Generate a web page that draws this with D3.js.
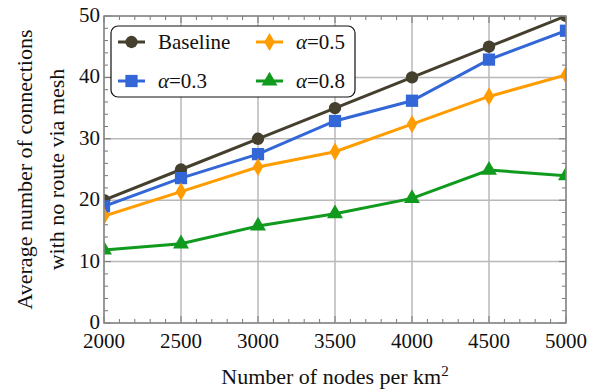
<!DOCTYPE html>
<html>
<head>
<meta charset="utf-8">
<script src="https://cdn.jsdelivr.net/npm/d3@7"></script>
<style>
  body { margin: 0; background: #fff; }
</style>
</head>
<body>
<div id="chart"></div>
<script>
// data
var nodes = [2000, 2500, 3000, 3500, 4000, 4500, 5000];
var baseline = [20, 25, 30, 35, 40, 45, 50];
var alpha03 = [19, 23.6, 27.5, 32.9, 36.2, 42.9, 47.6];
var alpha05 = [17.4, 21.4, 25.4, 27.9, 32.4, 36.9, 40.4];
var alpha08 = [11.9, 12.9, 15.8, 17.8, 20.3, 24.9, 24];
var xTicks = [2000, 2500, 3000, 3500, 4000, 4500, 5000];
var yTicks = [0, 10, 20, 30, 40, 50];

var series = [
  { name: "Baseline", values: baseline, color: "#453f2e", symbol: d3.symbolCircle, size: 120 },
  { name: "0.3", values: alpha03, color: "#3366d6", symbol: d3.symbolSquare, size: 150 },
  { name: "0.5", values: alpha05, color: "#ff9c00", symbol: d3.symbolDiamond, size: 95 },
  { name: "0.8", values: alpha08, color: "#109a1e", symbol: d3.symbolTriangle, size: 110 }
];

var width = 605, height = 389;
var margin = { top: 16, right: 39, bottom: 66, left: 104 };
var w = width - margin.left - margin.right;
var h = height - margin.top - margin.bottom;

var x = d3.scaleLinear().domain([2000, 5000]).range([0, w]);
var y = d3.scaleLinear().domain([0, 50]).range([h, 0]);

// serif text helper, inline style so nothing overrides it
function serif(sel, size) {
  return sel
    .style("font-family", "Liberation Serif", "important")
    .style("font-size", size + "px", "important")
    .attr("fill", "#111");
}

var svg = d3.select("#chart").append("svg")
  .attr("width", width)
  .attr("height", height);

var g = svg.append("g")
  .attr("transform", "translate(" + [margin.left, margin.top] + ")");

svg.append("defs").append("clipPath").attr("id", "clip")
  .append("rect").attr("width", w).attr("height", h);

// grid
g.append("g").selectAll("line").data(xTicks).enter().append("line")
  .attr("x1", x).attr("x2", x).attr("y1", 0).attr("y2", h)
  .attr("stroke", "#b8b8b8").attr("stroke-width", 1.5);
g.append("g").selectAll("line").data(yTicks).enter().append("line")
  .attr("y1", y).attr("y2", y).attr("x1", 0).attr("x2", w)
  .attr("stroke", "#b8b8b8").attr("stroke-width", 1.5);

// ticks on all four sides, pointing inward
var xMinor = d3.range(2000, 5001, 100);
var yMinor = d3.range(0, 51, 2);
var tickColor = "#777";

function ticksX(sel, yy, dir) {
  sel.selectAll(null).data(xMinor).enter().append("line")
    .attr("x1", x).attr("x2", x)
    .attr("y1", yy)
    .attr("y2", function (d) { return yy + dir * (d % 500 === 0 ? 7 : 4); })
    .attr("stroke", tickColor).attr("stroke-width", 1);
}
function ticksY(sel, xx, dir) {
  sel.selectAll(null).data(yMinor).enter().append("line")
    .attr("y1", y).attr("y2", y)
    .attr("x1", xx)
    .attr("x2", function (d) { return xx + dir * (d % 10 === 0 ? 7 : 4); })
    .attr("stroke", tickColor).attr("stroke-width", 1);
}
var tk = g.append("g");
ticksX(tk.append("g"), h, -1);
ticksX(tk.append("g"), 0, 1);
ticksY(tk.append("g"), 0, 1);
ticksY(tk.append("g"), w, -1);

// lines and markers
var plot = g.append("g").attr("clip-path", "url(#clip)");
var line = d3.line()
  .x(function (d, i) { return x(nodes[i]); })
  .y(function (d) { return y(d); });

series.forEach(function (s) {
  plot.append("path")
    .datum(s.values)
    .attr("d", line)
    .attr("fill", "none")
    .attr("stroke", s.color)
    .attr("stroke-width", 3);
  plot.selectAll(null).data(s.values).enter().append("path")
    .attr("d", d3.symbol().type(s.symbol).size(s.size))
    .attr("transform", function (d, i) { return "translate(" + [x(nodes[i]), y(d)] + ")"; })
    .attr("fill", s.color);
});

// frame
g.append("rect")
  .attr("width", w).attr("height", h)
  .attr("fill", "none").attr("stroke", "#888").attr("stroke-width", 1.5);

// tick labels
serif(g.append("g").selectAll("text").data(xTicks).enter().append("text")
  .attr("x", x).attr("y", h + 25)
  .attr("text-anchor", "middle"), 21)
  .text(function (d) { return d; });
serif(g.append("g").selectAll("text").data(yTicks).enter().append("text")
  .attr("x", -4).attr("y", function (d) { return y(d) + 6; })
  .attr("text-anchor", "end"), 21)
  .text(function (d) { return d; });

// axis titles
var xt = serif(g.append("text")
  .attr("x", w / 2).attr("y", h + 61)
  .attr("text-anchor", "middle"), 22);
serif(xt.append("tspan"), 22).text("Number of nodes per km");
serif(xt.append("tspan").attr("dy", -8), 15).text("2");

var yt = serif(g.append("text")
  .attr("transform", "translate(" + [-72, h / 2] + ") rotate(-90)")
  .attr("text-anchor", "middle"), 22);
serif(yt.append("tspan").attr("x", 0).attr("dy", 0), 22).text("Average number of connections");
serif(yt.append("tspan").attr("x", 0).attr("dy", 32), 22).text("with no route via mesh");

// legend
var lg = svg.append("g").attr("transform", "translate(111,26)");
lg.append("rect")
  .attr("width", 244).attr("height", 71)
  .attr("rx", 7).attr("ry", 7)
  .attr("fill", "#fff").attr("stroke", "#111").attr("stroke-width", 1.2);

var cols = [7, 145];
series.forEach(function (s, i) {
  var col = cols[Math.floor(i / 2)];
  var row = 16 + (i % 2) * 39;
  var e = lg.append("g").attr("transform", "translate(" + [col, row] + ")");
  e.append("line").attr("x1", 0).attr("x2", 27).attr("stroke", s.color).attr("stroke-width", 3);
  e.append("path")
    .attr("d", d3.symbol().type(s.symbol).size(s.size))
    .attr("transform", "translate(13.5,0)")
    .attr("fill", s.color);
  var t = serif(e.append("text").attr("x", 40).attr("y", 7), 21);
  if (s.name === "Baseline") {
    t.text("Baseline");
  } else {
    serif(t.append("tspan"), 21).style("font-style", "italic").text("\u03b1");
    serif(t.append("tspan"), 21).text("=" + s.name);
  }
});
</script>
</body>
</html>
